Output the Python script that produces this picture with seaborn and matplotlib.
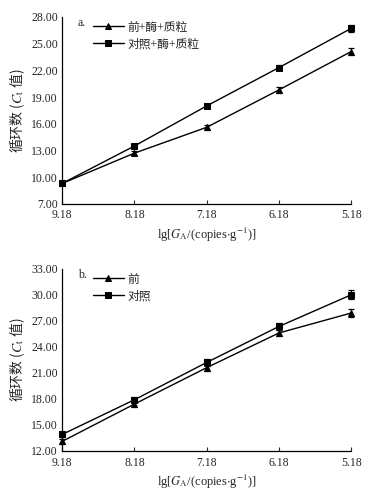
import numpy as np
import pandas as pd
import matplotlib
matplotlib.use("Agg")
import matplotlib.pyplot as plt
import seaborn as sns

# data
x_labels = ["9.18", "8.18", "7.18", "6.18", "5.18"]
x_vals = [9.18, 8.18, 7.18, 6.18, 5.18]

a_names = ["前+酶+质粒", "对照+酶+质粒"]
a_tri = [9.3, 12.7, 15.6, 19.8, 24.1]
a_tri_err = [0.2, 0.2, 0.25, 0.3, 0.35]
a_sq = [9.3, 13.5, 18.0, 22.3, 26.7]
a_sq_err = [0.2, 0.25, 0.25, 0.3, 0.35]

b_names = ["前", "对照"]
b_tri = [13.1, 17.4, 21.6, 25.6, 27.9]
b_tri_err = [0.3, 0.3, 0.35, 0.35, 0.5]
b_sq = [13.9, 17.9, 22.2, 26.35, 30.0]
b_sq_err = [0.3, 0.3, 0.35, 0.4, 0.5]

sns.set_style("ticks")
plt.rcParams['font.family'] = ['Liberation Serif', 'Noto Sans CJK SC']
plt.rcParams['mathtext.fontset'] = 'stix'

fig = plt.figure(figsize=(3.72, 4.95), dpi=100)
ax1 = fig.add_axes([0.167, 0.588, 0.777, 0.378])
ax2 = fig.add_axes([0.167, 0.089, 0.777, 0.368])


def panel(ax, names, tri, tri_err, sq, sq_err, ylim, yticks, tag):
    df = pd.DataFrame({
        "x": x_vals * 2,
        "y": tri + sq,
        "s": [names[0]] * 5 + [names[1]] * 5,
    })
    sns.lineplot(data=df, x="x", y="y", hue="s", style="s",
                 markers={names[0]: "^", names[1]: "s"}, dashes=False,
                 palette=["black", "black"], markersize=5, linewidth=1.0,
                 markeredgecolor="black", ax=ax, clip_on=False)
    ax.errorbar(x_vals, tri, yerr=tri_err, fmt="none", ecolor="black",
                elinewidth=0.9, capsize=2.5, capthick=0.9, clip_on=False)
    ax.errorbar(x_vals, sq, yerr=sq_err, fmt="none", ecolor="black",
                elinewidth=0.9, capsize=2.5, capthick=0.9, clip_on=False)
    ax.set_xlim(9.18, 5.18)
    ax.set_xticks(x_vals)
    ax.set_xticklabels(x_labels)
    ax.set_ylim(*ylim)
    ax.set_yticks(yticks)
    ax.set_yticklabels([f"{v:.2f}" for v in yticks])
    ax.tick_params(axis="x", direction="in", length=3, width=0.8, labelsize=8.5, pad=4)
    ax.tick_params(axis="y", direction="out", length=0, width=0.8, labelsize=8.5, pad=3)
    for sp in ["top", "right"]:
        ax.spines[sp].set_visible(False)
    for sp in ["left", "bottom"]:
        ax.spines[sp].set_linewidth(0.9)
        ax.spines[sp].set_color("black")
    ax.set_xlabel(r"lg[$G_{\rm A}$/(copies$\cdot$g$^{-1}$)]", fontsize=9, labelpad=3)
    ax.set_ylabel(r"循环数 ($C_{\rm t}$ 值)", fontsize=10, labelpad=3,
                  family="Noto Sans CJK SC")
    ax.text(0.055, 1.0, tag, transform=ax.transAxes, fontsize=8.5, va="top")
    leg = ax.legend(loc="upper left", bbox_to_anchor=(0.09, 1.0), frameon=False,
                    fontsize=8.5, handlelength=2.6, handletextpad=0.3,
                    labelspacing=0.4, borderaxespad=0)
    leg.set_title(None)


panel(ax1, a_names, a_tri, a_tri_err, a_sq, a_sq_err, (7, 28),
      [7, 10, 13, 16, 19, 22, 25, 28], "a.")
panel(ax2, b_names, b_tri, b_tri_err, b_sq, b_sq_err, (12, 33),
      [12, 15, 18, 21, 24, 27, 30, 33], "b.")

fig.savefig("out.png", dpi=100, facecolor="white")
